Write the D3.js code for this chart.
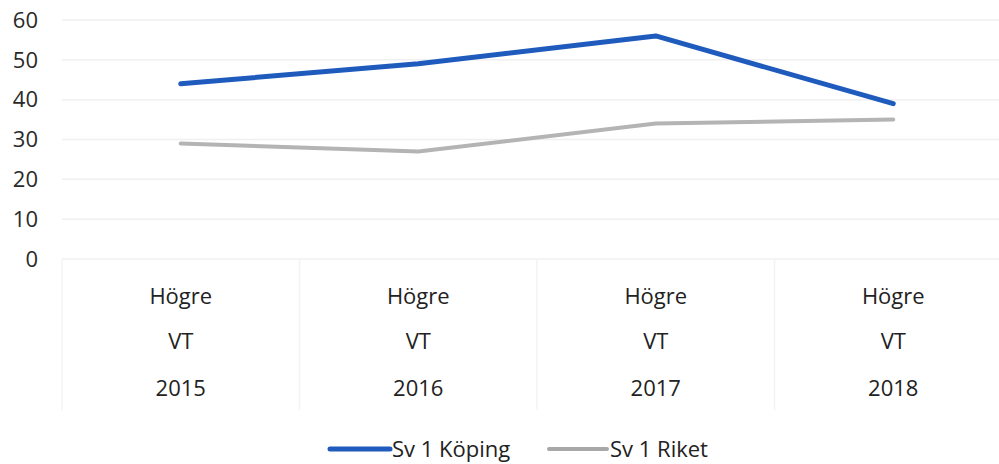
<!DOCTYPE html>
<html><head><meta charset="utf-8">
<script src="https://cdn.jsdelivr.net/npm/d3@7"></script>
<style>body{margin:0;background:#fff}svg{display:block}</style>
</head><body><svg id="c" width="999" height="464"></svg>
<script>
const categories = ["2015","2016","2017","2018"];
const catLine1 = "Högre";
const catLine2 = "VT";
const koping = [44, 49, 56, 39];
const riket = [29, 27, 34, 35];
const yTicks = [0,10,20,30,40,50,60];
const seriesNames = ["Sv 1 Köping","Sv 1 Riket"];

const svg = d3.select("#c");
const font = "'Open Sans', 'Liberation Sans', sans-serif";
const x = d3.scaleBand().domain(categories).range([62,1012]);
const y = d3.scaleLinear().domain([0,60]).range([259,20]);

// gridlines
svg.append("g").selectAll("line").data(yTicks).join("line")
  .attr("x1",62).attr("x2",999).attr("y1",d=>y(d)).attr("y2",d=>y(d))
  .attr("stroke","#f0f0f0").attr("stroke-width",1.5);

// category separators
svg.append("g").selectAll("line").data(categories).join("line")
  .attr("x1",d=>x(d)).attr("x2",d=>x(d)).attr("y1",259).attr("y2",410)
  .attr("stroke","#f3f3f3").attr("stroke-width",1.5);

// y labels
svg.append("g").selectAll("text").data(yTicks).join("text")
  .attr("x",38).attr("y",d=>y(d)).attr("dy","0.35em").attr("text-anchor","end")
  .attr("font-family",font).attr("font-size",22).attr("fill","#2a2a2a")
  .text(d=>d);

// x labels
const xl = svg.append("g").selectAll("g").data(categories).join("g")
  .attr("transform",d=>`translate(${x(d)+x.bandwidth()/2},0)`);
[[catLine1,296],[catLine2,341],[null,388]].forEach(([t,yy])=>{
  xl.append("text").attr("y",yy).attr("dy","0.35em").attr("text-anchor","middle")
    .attr("font-family",font).attr("font-size",22).attr("fill","#222")
    .text(d=>t===null?d:t);
});

const line = d3.line().x((d,i)=>x(categories[i])+x.bandwidth()/2).y(d=>y(d));
svg.append("path").datum(riket).attr("d",line).attr("fill","none")
  .attr("stroke","#b4b4b4").attr("stroke-width",4).attr("stroke-linecap","round").attr("stroke-linejoin","round");
svg.append("path").datum(koping).attr("d",line).attr("fill","none")
  .attr("stroke","#1e5bbd").attr("stroke-width",5).attr("stroke-linecap","round").attr("stroke-linejoin","round");

// legend
const leg = [{n:seriesNames[0],c:"#1e5bbd",w:5,x1:330,x2:390,tx:392},{n:seriesNames[1],c:"#a8a8a8",w:4,x1:549,x2:607,tx:610}];
leg.forEach(l=>{
  svg.append("line").attr("x1",l.x1).attr("x2",l.x2).attr("y1",449).attr("y2",449)
    .attr("stroke",l.c).attr("stroke-width",l.w).attr("stroke-linecap","round");
  svg.append("text").attr("x",l.tx).attr("y",449).attr("dy","0.35em")
    .attr("font-family",font).attr("font-size",22).attr("fill","#222").text(l.n);
});
</script></body></html>
